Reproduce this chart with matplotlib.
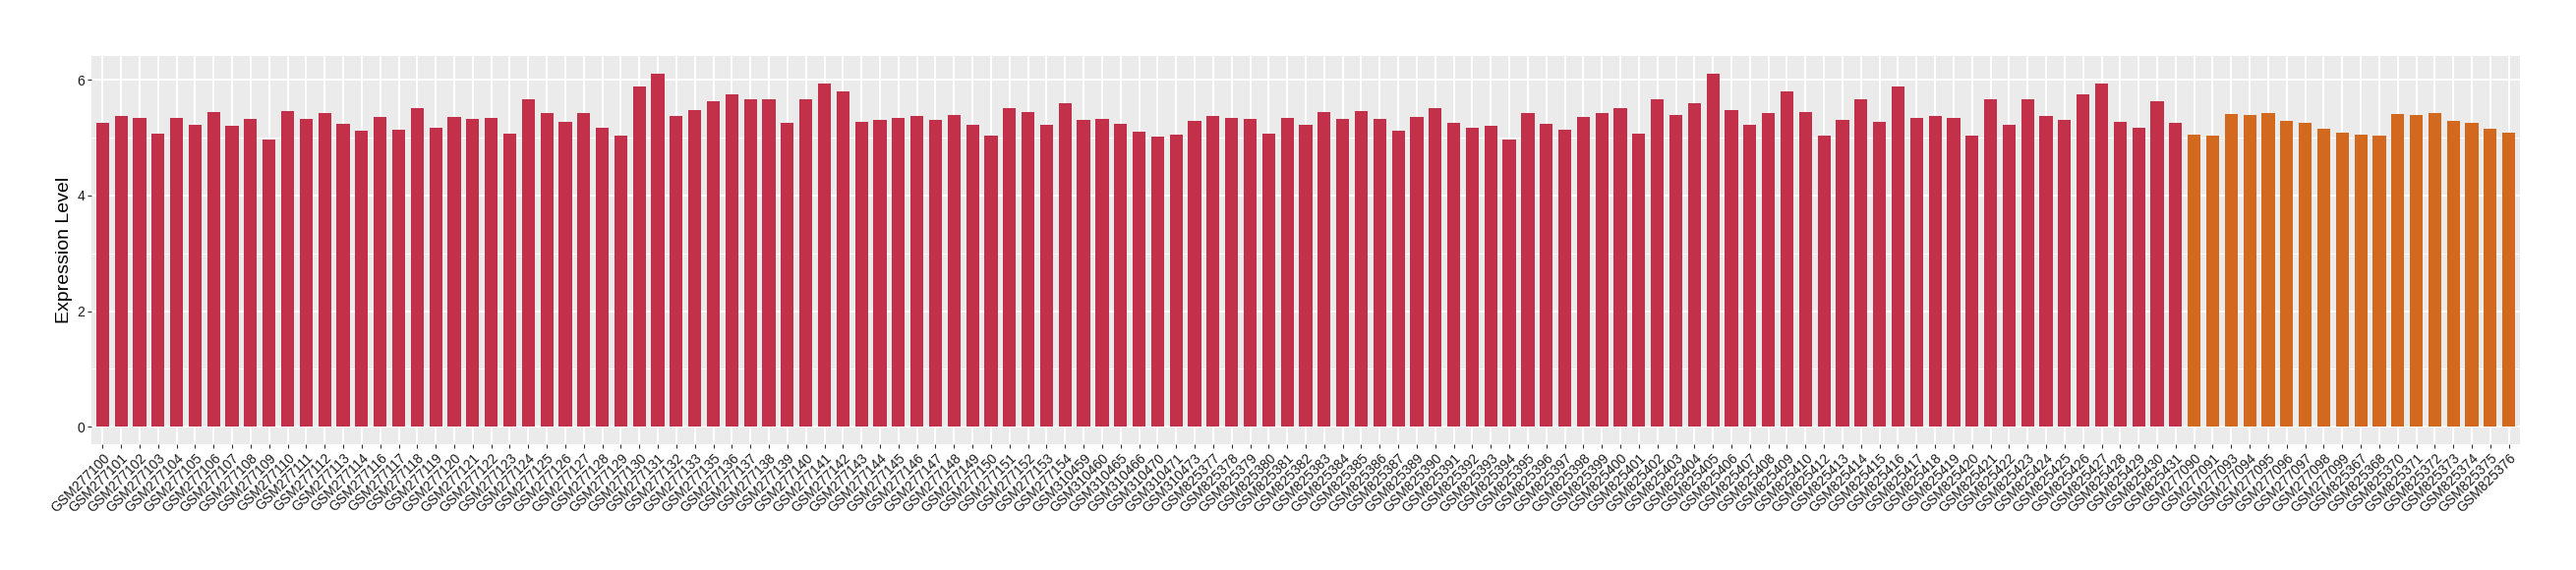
import numpy as np
import matplotlib
matplotlib.use("Agg")
import matplotlib.pyplot as plt
from matplotlib.ticker import MultipleLocator

plt.rcParams['font.family'] = ['Liberation Sans', 'DejaVu Sans']

# ---- data ----
samples_group1 = (
    [f"GSM2771{i:02d}" for i in range(0, 15)]
    + [f"GSM2771{i:02d}" for i in range(16, 34)]
    + [f"GSM2771{i:02d}" for i in range(35, 55)]
    + ["GSM310459", "GSM310460", "GSM310465", "GSM310466", "GSM310470", "GSM310471", "GSM310473"]
    + [f"GSM825{i}" for i in range(377, 388)]
    + [f"GSM825{i}" for i in range(389, 411)]
    + [f"GSM825{i}" for i in range(412, 432)]
)
values_group1 = [
    5.26, 5.38, 5.34, 5.07, 5.34, 5.23, 5.45, 5.21, 5.33, 4.97,
    5.46, 5.33, 5.43, 5.24, 5.12, 5.36, 5.14, 5.51, 5.18, 5.36,
    5.33, 5.34, 5.07, 5.67, 5.43, 5.28, 5.43, 5.18, 5.04, 5.89,
    6.11, 5.38, 5.48, 5.63, 5.75, 5.67, 5.67, 5.26, 5.67, 5.94,
    5.80, 5.28, 5.31, 5.34, 5.38, 5.31, 5.40, 5.23, 5.04, 5.51,
    5.45, 5.23, 5.60, 5.31, 5.33, 5.24, 5.11, 5.02, 5.06, 5.29,
    5.38, 5.34, 5.33, 5.07, 5.34, 5.23, 5.45, 5.33, 5.46, 5.33,
    5.12, 5.36, 5.51, 5.26, 5.18, 5.21, 4.97, 5.43, 5.24, 5.14,
    5.36, 5.43, 5.51, 5.07, 5.67, 5.40, 5.60, 6.11, 5.48, 5.23,
    5.43, 5.80, 5.45, 5.04, 5.31, 5.67, 5.28, 5.89, 5.34, 5.38,
    5.34, 5.04, 5.67, 5.23, 5.67, 5.38, 5.31, 5.75, 5.94, 5.28,
    5.18, 5.63, 5.26,
]
samples_group2 = (
    ["GSM277090", "GSM277091"]
    + [f"GSM2770{i}" for i in range(93, 100)]
    + ["GSM825367", "GSM825368"]
    + [f"GSM825{i}" for i in range(370, 377)]
)
values_group2 = [
    5.06, 5.04, 5.41, 5.40, 5.43, 5.29, 5.26, 5.16, 5.09,
    5.06, 5.04, 5.41, 5.40, 5.43, 5.29, 5.26, 5.16, 5.09,
]
color_group1 = "#C23149"
color_group2 = "#D2691E"

labels = samples_group1 + samples_group2
values = values_group1 + values_group2
colors = [color_group1] * len(values_group1) + [color_group2] * len(values_group2)

# ---- figure ----
W, H = 2620, 580
fig = plt.figure(figsize=(W / 100, H / 100), dpi=100)
ax = fig.add_axes([93 / W, 1 - 452 / H, (2563 - 93) / W, (452 - 57) / H])

x = np.arange(len(values))
ax.set_facecolor("#EBEBEB")
ax.bar(x, values, width=0.7, color=colors, zorder=3)

n = len(values)
ax.set_xlim(-0.6, n - 1 + 0.6)
vmax = max(values)
ax.set_ylim(-0.05 * vmax, vmax * 1.05)

ax.yaxis.set_major_locator(MultipleLocator(2))
ax.yaxis.set_minor_locator(MultipleLocator(1))
ax.grid(which="major", axis="both", color="white", linewidth=1.5, zorder=0)
ax.grid(which="minor", axis="y", color="white", linewidth=0.7, zorder=0)
ax.set_axisbelow(True)

ax.set_xticks(x)
ax.set_xticklabels(labels, rotation=45, ha="right", va="top",
                   rotation_mode="anchor", fontsize=10, color="#1A1A1A")
ax.set_yticks([0, 2, 4, 6])
ax.set_yticklabels(["0", "2", "4", "6"], fontsize=10, color="#1A1A1A")
ax.tick_params(axis="both", which="major", length=3, width=0.8, color="#333333", pad=2)
ax.tick_params(axis="y", which="minor", length=0)
for s in ax.spines.values():
    s.set_visible(False)

ax.set_ylabel("Expression Level", fontsize=14, labelpad=3)

fig.savefig("out.png", dpi=100)
